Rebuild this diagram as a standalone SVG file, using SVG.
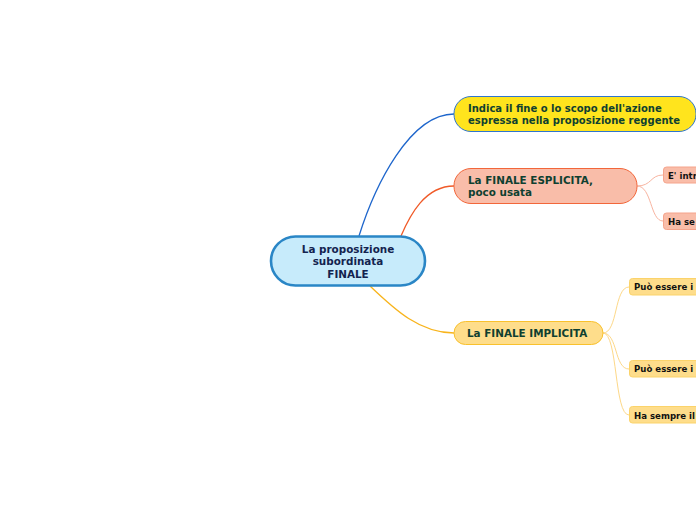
<svg xmlns="http://www.w3.org/2000/svg" width="696" height="520" viewBox="0 0 696 520">
<style>
text{font-family:"DejaVu Sans","Verdana",sans-serif;font-weight:bold}
.main{font-size:10.4px;fill:#0f4030}
.center{font-size:10.4px;fill:#13234f}
.small{font-size:8.6px;fill:#111111}
.c{fill:none}
</style>
<rect width="696" height="520" fill="#ffffff"/>
<g id="connectors">
<path class="c" d="M359,236 C375,185 410,114 454,114" stroke="#1e66cc" stroke-width="1.3"/>
<path class="c" d="M401,236 C410,215 425,186 454,186" stroke="#f05a28" stroke-width="1.3"/>
<path class="c" d="M370,286 C395,310 420,333 454,333" stroke="#f8b41c" stroke-width="1.3"/>
<path class="c" d="M637,186 C652,186 650,175 663,175" stroke="#f8b4a0" stroke-width="1"/>
<path class="c" d="M637,186 C652,186 650,221 663,221" stroke="#f8b4a0" stroke-width="1"/>
<path class="c" d="M603,333 C618,333 614,287 629,287" stroke="#fdd888" stroke-width="1"/>
<path class="c" d="M603,333 C618,333 614,369 629,369" stroke="#fdd888" stroke-width="1"/>
<path class="c" d="M603,333 C618,333 614,415 629,415" stroke="#fdd888" stroke-width="1"/>
</g>
<g id="center">
<rect x="271" y="236.5" width="154" height="49" rx="24.5" fill="#c7ebfb" stroke="#2a86c6" stroke-width="2.6"/>
<text class="center" x="348" y="253" text-anchor="middle">La proposizione</text>
<text class="center" x="348" y="265" text-anchor="middle">subordinata</text>
<text class="center" x="348" y="277.5" text-anchor="middle">FINALE</text>
</g>
<g id="fine">
<rect x="454" y="96.5" width="242" height="35" rx="17" fill="#ffe41d" stroke="#2e75cf" stroke-width="1"/>
<text class="main" x="468" y="112" style="font-size:10px">Indica il fine o lo scopo dell'azione</text>
<text class="main" x="468" y="124" style="font-size:10px">espressa nella proposizione reggente</text>
</g>
<g id="esplicita">
<rect x="454" y="168.5" width="183" height="35" rx="17" fill="#f9bda9" stroke="#f2663a" stroke-width="1"/>
<text class="main" x="468" y="184">La FINALE ESPLICITA,</text>
<text class="main" x="468" y="196">poco usata</text>
</g>
<g id="implicita">
<rect x="454" y="321.5" width="149" height="23" rx="11.5" fill="#fedd8b" stroke="#f9c12d" stroke-width="1"/>
<text class="main" x="467" y="337">La FINALE IMPLICITA</text>
</g>
<g id="esp1">
<rect x="663.5" y="167" width="60" height="16" rx="3" fill="#f9bda9" stroke="#f5a48c" stroke-width="1"/>
<text class="small" x="668" y="178.5">E' intr</text>
</g>
<g id="esp2">
<rect x="663.5" y="213" width="60" height="16.5" rx="3" fill="#f9bda9" stroke="#f5a48c" stroke-width="1"/>
<text class="small" x="668" y="224.5">Ha se</text>
</g>
<g id="imp1">
<rect x="629.5" y="278.5" width="90" height="16.5" rx="3" fill="#fedd8b" stroke="#fbd36a" stroke-width="1"/>
<text class="small" x="634" y="290">Può essere i</text>
</g>
<g id="imp2">
<rect x="629.5" y="360.5" width="90" height="16.5" rx="3" fill="#fedd8b" stroke="#fbd36a" stroke-width="1"/>
<text class="small" x="634" y="372">Può essere i</text>
</g>
<g id="imp3">
<rect x="629.5" y="406.5" width="90" height="16.5" rx="3" fill="#fedd8b" stroke="#fbd36a" stroke-width="1"/>
<text class="small" x="634" y="418.5">Ha sempre il</text>
</g>
</svg>
